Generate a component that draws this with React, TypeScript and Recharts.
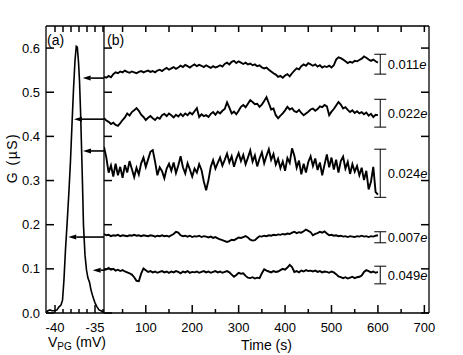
import React from "react";
import {
  ComposedChart,
  Line,
  Scatter,
  XAxis,
  YAxis,
  ReferenceLine,
  ErrorBar,
} from "recharts";

const FONT = "'Liberation Sans', Arial, Helvetica, sans-serif";

// (a) conductance peak vs plunger gate voltage
const CURVE_V = [
  -41.1, -40.88, -40.63, -40.38, -40.0, -39.75, -39.5, -39.25, -39.06, -38.88,
  -38.69, -38.5, -38.25, -38.06, -37.88, -37.69, -37.5, -37.34, -37.21, -37.06,
  -36.94, -36.81, -36.69, -36.56, -36.44, -36.25, -36.06, -35.88, -35.69, -35.5,
  -35.25, -35.0, -34.75, -34.5, -34.25, -33.94,
];
const CURVE_G = [
  0.002, 0.005, 0.007, 0.005, 0.005, 0.007, 0.014, 0.018, 0.029, 0.075,
  0.143, 0.199, 0.278, 0.346, 0.425, 0.505, 0.572, 0.604, 0.602, 0.568,
  0.527, 0.459, 0.38, 0.29, 0.199, 0.131, 0.097, 0.079, 0.07, 0.052,
  0.036, 0.023, 0.014, 0.007, 0.005, 0.002,
];

// arrows: level of each trace in (b), pointing at the peak in (a)
const ARROW_TIP_V = [-36.54, -37.63, -36.5, -38.34, -35.29];
const ARROW_G = [0.532, 0.439, 0.367, 0.172, 0.097];

// (b) time traces, one sample every 5 s from 10 s to 600 s
const T_START = 10;
const T_STEP = 5;

const TRACE_1 = [
  0.535, 0.533, 0.537, 0.534, 0.541, 0.545, 0.543, 0.547, 0.545, 0.549,
  0.546, 0.544, 0.547, 0.545, 0.543, 0.546, 0.548, 0.545, 0.547, 0.549,
  0.546, 0.548, 0.545, 0.549, 0.551, 0.548, 0.552, 0.555, 0.551, 0.554,
  0.557, 0.553, 0.556, 0.56, 0.557, 0.562, 0.559, 0.556, 0.56, 0.563,
  0.559, 0.562, 0.56, 0.557, 0.561, 0.558, 0.555, 0.559, 0.556, 0.558,
  0.561, 0.558, 0.564, 0.567, 0.563, 0.569, 0.571, 0.566, 0.57, 0.567,
  0.564, 0.567, 0.563, 0.565, 0.561, 0.563, 0.559, 0.561, 0.556, 0.554,
  0.556, 0.551, 0.547, 0.543, 0.54, 0.535, 0.537, 0.533, 0.538, 0.541,
  0.536, 0.543, 0.549, 0.554, 0.552, 0.559, 0.563, 0.56, 0.566, 0.563,
  0.56, 0.563, 0.558, 0.561, 0.556, 0.559, 0.557, 0.56, 0.556, 0.561,
  0.574, 0.579, 0.577, 0.574, 0.57, 0.566, 0.569, 0.567, 0.571, 0.57,
  0.573, 0.576, 0.581, 0.578, 0.574, 0.571, 0.574, 0.57, 0.567,
];

const TRACE_2 = [
  0.441, 0.436, 0.433, 0.428, 0.431, 0.426, 0.424, 0.43, 0.437, 0.443,
  0.452, 0.447, 0.455, 0.459, 0.464, 0.458, 0.449, 0.444, 0.437, 0.442,
  0.446, 0.441, 0.437, 0.443, 0.44, 0.448, 0.451, 0.446, 0.452, 0.448,
  0.443, 0.449, 0.445, 0.451, 0.446, 0.452, 0.448, 0.454, 0.45, 0.457,
  0.464, 0.444, 0.45, 0.446, 0.448, 0.444, 0.451, 0.455, 0.449, 0.456,
  0.452, 0.458, 0.462, 0.477, 0.465, 0.452, 0.456, 0.45, 0.458, 0.467,
  0.471, 0.466, 0.474, 0.482, 0.478, 0.473, 0.474, 0.467, 0.472, 0.48,
  0.489, 0.475, 0.461, 0.463, 0.448, 0.441, 0.447, 0.452, 0.459, 0.467,
  0.461, 0.464, 0.457, 0.455, 0.46, 0.453, 0.448, 0.452, 0.456, 0.461,
  0.463, 0.458, 0.462, 0.468, 0.466, 0.471, 0.468, 0.448, 0.456, 0.462,
  0.47, 0.478, 0.472, 0.463, 0.466, 0.46, 0.455, 0.459, 0.453, 0.457,
  0.452, 0.455, 0.45, 0.454, 0.447, 0.451, 0.444, 0.449, 0.448,
];

const TRACE_3 = [
  0.376, 0.352, 0.318, 0.334, 0.309, 0.338, 0.312, 0.331, 0.306, 0.335,
  0.318, 0.344, 0.326, 0.308, 0.329, 0.314, 0.339, 0.352, 0.331, 0.348,
  0.365, 0.369, 0.343, 0.312, 0.33, 0.321, 0.305, 0.327, 0.338, 0.322,
  0.341, 0.317, 0.334, 0.355, 0.33, 0.316, 0.339, 0.325, 0.309, 0.327,
  0.318, 0.337, 0.324, 0.298, 0.278, 0.301, 0.331, 0.346, 0.327, 0.34,
  0.352, 0.334, 0.347, 0.361, 0.341, 0.355, 0.331, 0.349, 0.362, 0.344,
  0.358, 0.337, 0.352, 0.368, 0.343, 0.357, 0.332, 0.35, 0.364, 0.339,
  0.356, 0.371, 0.347, 0.36, 0.336, 0.349, 0.328, 0.343, 0.322, 0.351,
  0.34, 0.373, 0.356, 0.329, 0.345, 0.314, 0.338, 0.318, 0.342, 0.355,
  0.333, 0.35, 0.324, 0.341, 0.312, 0.336, 0.359, 0.33, 0.352, 0.325,
  0.347, 0.318, 0.344, 0.354, 0.327, 0.342, 0.315, 0.337, 0.32, 0.333,
  0.312, 0.329, 0.301, 0.322, 0.28, 0.297, 0.331, 0.274, 0.268,
];

const TRACE_4 = [
  0.179, 0.176, 0.177, 0.174, 0.176, 0.175, 0.177, 0.174, 0.176, 0.175,
  0.174, 0.176, 0.175, 0.177, 0.175, 0.176, 0.174, 0.176, 0.175, 0.174,
  0.176, 0.175, 0.173, 0.175, 0.174, 0.176, 0.174, 0.175, 0.173, 0.176,
  0.179, 0.184, 0.182, 0.176, 0.174, 0.175, 0.173, 0.175, 0.172, 0.174,
  0.173, 0.175, 0.172, 0.174, 0.173, 0.171, 0.173, 0.17, 0.172, 0.169,
  0.167, 0.165, 0.163, 0.161, 0.163, 0.166, 0.165, 0.168, 0.171, 0.17,
  0.172, 0.174, 0.171, 0.166, 0.164, 0.165, 0.17, 0.174, 0.173, 0.175,
  0.174, 0.176, 0.175, 0.177, 0.176, 0.178, 0.177, 0.179, 0.178, 0.18,
  0.179, 0.182, 0.184, 0.181, 0.183, 0.182, 0.185, 0.189, 0.186, 0.183,
  0.176, 0.179, 0.181, 0.184, 0.182, 0.185, 0.18, 0.176, 0.177, 0.175,
  0.176, 0.174, 0.175, 0.173, 0.174, 0.172, 0.174, 0.173, 0.172, 0.174,
  0.173, 0.175, 0.173, 0.174, 0.172, 0.174, 0.173, 0.175, 0.176,
];

const TRACE_5 = [
  0.097, 0.099, 0.102, 0.098, 0.1, 0.096, 0.098, 0.095, 0.097, 0.094,
  0.092, 0.09, 0.087, 0.081, 0.073, 0.072, 0.089, 0.101, 0.097, 0.093,
  0.095, 0.092, 0.094, 0.091, 0.093, 0.095, 0.092, 0.094, 0.091, 0.094,
  0.092, 0.095, 0.093, 0.09, 0.094, 0.092, 0.095, 0.091, 0.093, 0.092,
  0.094, 0.091, 0.093, 0.095, 0.092, 0.094, 0.091, 0.093, 0.095, 0.092,
  0.094, 0.091, 0.093, 0.095, 0.092, 0.087, 0.082, 0.086, 0.091, 0.089,
  0.09, 0.084, 0.08, 0.079, 0.081, 0.078, 0.08, 0.079, 0.09, 0.099,
  0.096, 0.094, 0.092, 0.095, 0.093, 0.094, 0.097, 0.1, 0.098, 0.103,
  0.109, 0.104, 0.093, 0.095, 0.092, 0.096, 0.094, 0.097, 0.095, 0.096,
  0.094, 0.096, 0.093, 0.095, 0.092, 0.094, 0.093, 0.091, 0.094, 0.092,
  0.088, 0.083, 0.081, 0.079, 0.081, 0.078, 0.08, 0.082, 0.079, 0.081,
  0.082, 0.085, 0.093, 0.097, 0.095, 0.092, 0.094, 0.091, 0.093,
];

const TRACES = [TRACE_1, TRACE_2, TRACE_3, TRACE_4, TRACE_5];

// charge noise bars drawn at the end of each trace
const BAR_T = 605;
const BAR_LOW = [0.541, 0.421, 0.262, 0.159, 0.066];
const BAR_HIGH = [0.586, 0.484, 0.371, 0.184, 0.106];
const BAR_LABEL = ["0.011", "0.022", "0.024", "0.007", "0.049"];

const G_DOMAIN = [0, 0.65];
const G_TICKS = [0, 0.1, 0.2, 0.3, 0.4, 0.5, 0.6];
const V_DOMAIN = [-41.125, -33.875];
const V_TICKS = [-40, -39, -38, -37, -36, -35, -34];
const V_LABELLED = [-40, -35];
const T_DOMAIN = [10, 710];
const T_TICKS = [50, 100, 150, 200, 250, 300, 350, 400, 450, 500, 550, 600, 650, 700];

const curveData = CURVE_V.map((v, i) => ({ v, g: CURVE_G[i] }));
const arrowData = ARROW_TIP_V.map((v, i) => ({ v, g: ARROW_G[i] }));
const traceData = TRACES.map((tr) =>
  tr.map((g, i) => ({ t: T_START + i * T_STEP, g }))
);
const barData = BAR_LOW.map((lo, i) => {
  const mid = (lo + BAR_HIGH[i]) / 2;
  return { t: BAR_T, g: mid, err: [mid - lo, BAR_HIGH[i] - mid], label: BAR_LABEL[i] };
});

const TICK_W = 1.5;
const AXIS = { stroke: "#000", strokeWidth: 1.3 };

// inward ticks, labels only on the major ones
const makeBottomTick = (isLabelled: (v: number) => boolean, minor: number) => (props: any) => {
  const { x, y, payload } = props;
  const lab = isLabelled(payload.value);
  return (
    <g>
      <line x1={x} y1={y} x2={x} y2={y - (lab ? 8 : minor)} stroke="#000" strokeWidth={TICK_W} />
      {lab && (
        <text x={x} y={y + 19} textAnchor="middle" fontSize={13} fontFamily={FONT} fill="#000">
          {payload.value}
        </text>
      )}
    </g>
  );
};

const makeLineTick = (dx: number, dy: number) => (props: any) => {
  const { x, y } = props;
  return <line x1={x} y1={y} x2={x + dx} y2={y + dy} stroke="#000" strokeWidth={TICK_W} />;
};

const LeftTick = (props: any) => {
  const { x, y, payload } = props;
  return (
    <g>
      <line x1={x} y1={y} x2={x + 8} y2={y} stroke="#000" strokeWidth={TICK_W} />
      <text x={x - 6} y={y + 4.5} textAnchor="end" fontSize={13} fontFamily={FONT} fill="#000">
        {payload.value.toFixed(1)}
      </text>
    </g>
  );
};

const ArrowHead = (props: any) => {
  const { cx, cy } = props;
  return <polygon points={`${cx},${cy} ${cx + 8},${cy - 2.5} ${cx + 8},${cy + 2.5}`} fill="#000" />;
};

const BarText = (props: any) => {
  const { cx, cy, payload } = props;
  return (
    <text x={cx + 7.5} y={cy + 4.5} fontSize={13} fontFamily={FONT} fill="#000">
      {payload.label}
      <tspan fontStyle="italic">e</tspan>
    </text>
  );
};

const TextsA = () => (
  <g fontFamily={FONT} fill="#000">
    <text transform="translate(17,158) rotate(-90)" textAnchor="middle" fontSize={14} letterSpacing={1.5}>
      G (µS)
    </text>
    <text x={47} y={45} fontSize={14}>(a)</text>
    <text x={77} y={347} textAnchor="middle" fontSize={14}>
      V<tspan fontSize={10} dy={3}>PG</tspan>
      <tspan dy={-3}> (mV)</tspan>
    </text>
  </g>
);

const TextsB = () => (
  <g fontFamily={FONT} fill="#000">
    <text x={7} y={45} fontSize={14}>(b)</text>
    <text x={166.5} y={350} textAnchor="middle" fontSize={14}>Time (s)</text>
  </g>
);

export default function App() {
  return (
    <div style={{ position: "absolute", left: 0, top: 0, width: 463, height: 355, background: "#fff" }}>
      <div style={{ position: "absolute", left: 0, top: 0 }}>
        <ComposedChart width={120} height={355} margin={{ top: 25, right: 16, bottom: 0, left: 0 }}>
          <XAxis
            dataKey="v"
            type="number"
            domain={V_DOMAIN}
            allowDataOverflow
            ticks={V_TICKS}
            interval={0}
            height={42}
            tickSize={0}
            tickMargin={0}
            tickLine={false}
            axisLine={AXIS}
            tick={makeBottomTick((v) => V_LABELLED.includes(v), 4)}
            label={<TextsA />}
          />
          <XAxis
            xAxisId="top"
            orientation="top"
            dataKey="v"
            type="number"
            domain={V_DOMAIN}
            allowDataOverflow
            ticks={V_TICKS}
            interval={0}
            height={1}
            tickSize={0}
            tickMargin={0}
            tickLine={false}
            axisLine={AXIS}
            tick={makeLineTick(0, 6)}
          />
          <YAxis
            dataKey="g"
            type="number"
            domain={G_DOMAIN}
            allowDataOverflow
            ticks={G_TICKS}
            interval={0}
            width={46}
            tickSize={0}
            tickMargin={0}
            tickLine={false}
            axisLine={AXIS}
            tick={LeftTick}
          />
          {/* invisible copy so the top axis has data of its own */}
          <Line
            xAxisId="top"
            data={curveData}
            dataKey="g"
            stroke="none"
            dot={false}
            activeDot={false}
            isAnimationActive={false}
          />
          <Line
            data={curveData}
            dataKey="g"
            type="linear"
            stroke="#000"
            strokeWidth={1.6}
            dot={false}
            isAnimationActive={false}
          />
          {arrowData.map((a, i) => (
            <ReferenceLine
              key={i}
              segment={[
                { x: a.v + 1, y: a.g },
                { x: V_DOMAIN[1], y: a.g },
              ]}
              stroke="#000"
              strokeWidth={1.6}
            />
          ))}
          <Scatter data={arrowData} dataKey="g" shape={ArrowHead} isAnimationActive={false} />
        </ComposedChart>
      </div>
      <div style={{ position: "absolute", left: 100, top: 0 }}>
        <ComposedChart width={363} height={355} margin={{ top: 25, right: 33, bottom: 0, left: 3 }}>
          <XAxis
            dataKey="t"
            type="number"
            domain={T_DOMAIN}
            allowDataOverflow
            ticks={T_TICKS}
            interval={0}
            height={42}
            tickSize={0}
            tickMargin={0}
            tickLine={false}
            axisLine={AXIS}
            tick={makeBottomTick((v) => v % 100 === 0, 4)}
            label={<TextsB />}
          />
          <XAxis
            xAxisId="top"
            orientation="top"
            dataKey="t"
            type="number"
            domain={T_DOMAIN}
            allowDataOverflow
            ticks={T_TICKS}
            interval={0}
            height={1}
            tickSize={0}
            tickMargin={0}
            tickLine={false}
            axisLine={AXIS}
            tick={makeLineTick(0, 6)}
          />
          <YAxis
            dataKey="g"
            type="number"
            domain={G_DOMAIN}
            allowDataOverflow
            ticks={G_TICKS}
            interval={0}
            width={1}
            tickSize={0}
            tickMargin={0}
            tickLine={false}
            axisLine={AXIS}
            tick={makeLineTick(8, 0)}
          />
          <YAxis
            yAxisId="right"
            orientation="right"
            dataKey="g"
            type="number"
            domain={G_DOMAIN}
            allowDataOverflow
            ticks={G_TICKS}
            interval={0}
            width={1}
            tickSize={0}
            tickMargin={0}
            tickLine={false}
            axisLine={AXIS}
            tick={makeLineTick(-8, 0)}
          />
          {/* invisible copy so the top and right axes have data of their own */}
          <Line
            xAxisId="top"
            yAxisId="right"
            data={traceData[0]}
            dataKey="g"
            stroke="none"
            dot={false}
            activeDot={false}
            isAnimationActive={false}
          />
          {traceData.map((d, i) => (
            <Line
              key={i}
              data={d}
              dataKey="g"
              type="linear"
              stroke="#000"
              strokeWidth={1.9}
              dot={false}
              isAnimationActive={false}
            />
          ))}
          <Scatter data={barData} dataKey="g" shape={BarText} isAnimationActive={false}>
            <ErrorBar dataKey="err" direction="y" width={6} stroke="#000" strokeWidth={1} />
          </Scatter>
        </ComposedChart>
      </div>
    </div>
  );
}
